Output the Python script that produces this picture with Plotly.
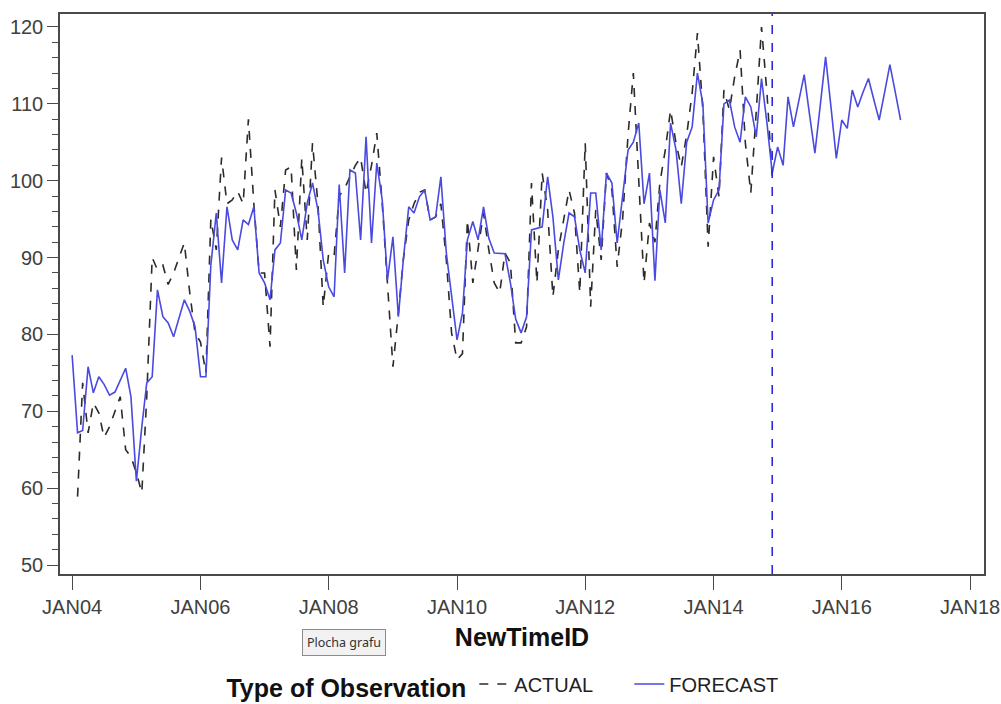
import pandas as pd
import plotly.graph_objects as go

# ---- data ----
START_MONTH = "2004-01-01"

forecast = [
    77.3, 67.2, 67.5, 75.8, 72.4, 74.5, 73.5, 72.1, 72.5, 74.0, 75.6, 71.9,
    60.9, 68.0, 73.7, 74.5, 85.8, 82.3, 81.5, 79.7, 82.0, 84.5, 83.0, 81.0,
    74.5, 74.5, 89.0, 95.8, 86.7, 96.6, 92.3, 91.0, 94.9, 94.3, 96.6, 88.0,
    86.7, 84.5, 91.0, 91.9, 98.8, 98.4, 95.8, 92.3, 97.1, 99.7, 96.2, 89.7,
    86.2, 84.9, 99.5, 88.0, 101.4, 101.0, 92.3, 105.7, 91.9, 102.3, 97.5, 87.1,
    92.7, 82.3, 89.7, 96.6, 95.8, 97.9, 98.8, 94.9, 95.3, 100.5, 90.6, 84.9,
    79.3, 82.8, 92.3, 94.7, 92.3, 96.6, 92.5, 90.6, 90.5, 90.5, 86.7, 82.0,
    80.2, 82.3, 93.6, 93.8, 94.0, 100.5, 95.3, 87.1, 91.9, 95.8, 95.3, 91.0,
    88.0, 98.4, 98.4, 91.0, 101.0, 99.7, 91.9, 98.0, 104.0, 105.0, 107.5, 97.0,
    101.0, 87.0, 98.8, 94.5, 107.5, 104.0, 97.0, 105.0, 107.0, 114.0, 110.0, 94.5,
    97.5, 98.8, 110.0, 110.5, 107.0, 105.0, 110.9, 109.6, 105.7, 113.3, 107.5, 101.0,
    104.4, 102.0, 110.9, 107.0, 110.4, 113.8, 108.7, 103.6, 109.9, 116.1, 109.5, 102.9,
    107.9, 106.8, 111.8, 109.6, 111.5, 113.3, 110.6, 107.9, 111.5, 115.1, 111.5, 107.9,
]

actual = [
    None, 58.9, 73.7, 67.2, 71.1, 69.8, 66.6, 68.0, 70.0, 71.9, 65.0, 64.1,
    62.0, 59.4, 71.9, 90.0, 88.4, 89.0, 86.5, 88.0, 90.0, 91.9, 85.4, 80.2,
    79.0, 75.0, 95.0, 91.0, 103.0, 97.0, 97.5, 98.6, 97.0, 108.0, 97.0, 88.0,
    88.0, 78.4, 98.8, 94.0, 101.4, 101.8, 88.4, 102.9, 92.3, 104.9, 97.0, 83.6,
    90.6, 90.2, 98.0, 99.0, 100.5, 102.0, 103.0, 98.4, 102.0, 106.2, 97.0, 86.2,
    75.8, 82.8, 89.7, 94.9, 97.0, 98.5, 98.8, 94.9, 95.3, 97.0, 89.7, 80.2,
    76.7, 77.5, 94.9, 86.7, 91.0, 95.8, 91.0, 86.7, 85.4, 90.6, 89.3, 78.9,
    78.9, 81.0, 99.7, 86.7, 101.0, 96.2, 84.9, 91.0, 95.0, 98.8, 95.8, 85.4,
    104.9, 83.6, 96.2, 89.7, 101.0, 98.8, 88.8, 95.0, 106.0, 114.0, 100.0, 86.7,
    94.5, 92.0, 99.7, 104.0, 109.2, 104.9, 101.8, 106.0, 111.4, 119.2, 109.2, 91.4,
    103.1, 97.9, 111.8, 109.2, 113.5, 117.0, 104.9, 98.4, 109.0, 120.0, 111.4, 100.5,
]

forecast_start_index = 131  # month where the forecast horizon line is drawn

tick_years = [2004, 2006, 2008, 2010, 2012, 2014, 2016, 2018]
tick_labels = ["JAN04", "JAN06", "JAN08", "JAN10", "JAN12", "JAN14", "JAN16", "JAN18"]
y_ticks = [50, 60, 70, 80, 90, 100, 110, 120]

series_names = ["ACTUAL", "FORECAST"]

# ---- build ----
f_dates = pd.date_range(START_MONTH, periods=len(forecast), freq="MS")
a_dates = f_dates[: len(actual)]
tick_vals = [pd.Timestamp(f"{y}-01-01") for y in tick_years]
line_date = f_dates[forecast_start_index]

FONT = "Liberation Sans, Arial, sans-serif"

fig = go.Figure()
fig.add_trace(go.Scatter(
    x=a_dates, y=actual, mode="lines", name=series_names[0],
    line=dict(color="#2b2b2b", width=1.6, dash="dash"),
))
fig.add_trace(go.Scatter(
    x=f_dates, y=forecast, mode="lines", name=series_names[1],
    line=dict(color="#4a4ae0", width=1.6),
))

fig.add_shape(
    type="line", xref="x", yref="paper", x0=line_date, x1=line_date, y0=0, y1=1,
    line=dict(color="#2a2ad8", width=1.6, dash="dash"), layer="above",
)

axis_common = dict(
    showgrid=False, zeroline=False, showline=True, mirror=True,
    linecolor="#4a4a4a", linewidth=1.5, ticks="outside", tickcolor="#4a4a4a",
    tickwidth=1.3, automargin=False,
)

fig.update_xaxes(
    **axis_common,
    range=[pd.Timestamp("2003-10-24"), pd.Timestamp("2018-03-21")],
    tickvals=tick_vals, ticktext=tick_labels, ticklen=14,
    tickfont=dict(family=FONT, size=20, color="#404040"),
    title=dict(text="<b>NewTimeID</b>", standoff=12,
               font=dict(family=FONT, size=25, color="#111111")),
)
fig.update_yaxes(
    **axis_common,
    range=[48.83, 121.69],
    tickvals=y_ticks, ticklen=11,
    tickfont=dict(family=FONT, size=20, color="#404040"),
    minor=dict(dtick=2, tick0=50, ticks="outside", ticklen=6, tickcolor="#4a4a4a", tickwidth=1.2),
)

fig.add_annotation(
    text="Plocha grafu", xref="paper", yref="paper", x=0.307, y=-0.123,
    xanchor="center", yanchor="middle",
    showarrow=False, font=dict(family="Noto Sans, DejaVu Sans, sans-serif", size=12.5, color="#333333"),
    bgcolor="#f2f2f2", bordercolor="#8c8c8c", borderwidth=1, borderpad=4,
)

fig.update_layout(
    width=1001, height=704,
    margin=dict(l=60, r=17, t=14, b=130, autoexpand=False),
    paper_bgcolor="white", plot_bgcolor="white",
    showlegend=True,
    legend=dict(
        orientation="h", x=0.481, xanchor="center", y=-0.2, yanchor="middle",
        title=dict(text="<b>Type of Observation</b>", side="left",
                   font=dict(family=FONT, size=25, color="#111111")),
        font=dict(family=FONT, size=20, color="#222222"),
        itemwidth=30, tracegroupgap=0, entrywidth=110,
    ),
)

fig.write_html("out.html")
